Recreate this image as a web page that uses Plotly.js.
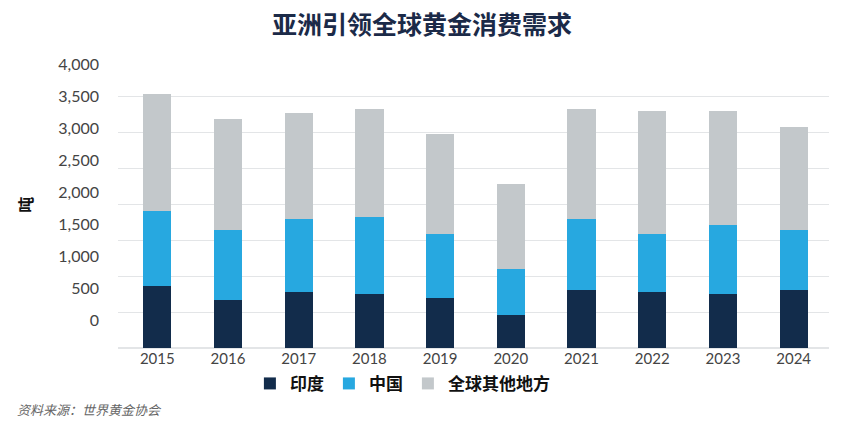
<!DOCTYPE html>
<html>
<head>
<meta charset="utf-8">
<script src="https://cdn.plot.ly/plotly-3.0.1.min.js"></script>
<style>
  html, body { margin: 0; padding: 0; background: #fff; }
  #chart { width: 844px; height: 436px; }
</style>
</head>
<body>
<div id="chart"></div>
<script>
// gold consumer demand, tonnes
const years = ['2015', '2016', '2017', '2018', '2019', '2020', '2021', '2022', '2023', '2024'];
const india = [866, 667, 782, 750, 690, 458, 806, 782, 750, 806];
const china = [1046, 981, 1014, 1079, 903, 644, 990, 811, 958, 842];
const restOfWorld = [1628, 1546, 1482, 1509, 1393, 1190, 1542, 1717, 1602, 1426];

const yTicks = [0, 500, 1000, 1500, 2000, 2500, 3000, 3500, 4000];
const yTickText = ['0', '500', '1,000', '1,500', '2,000', '2,500', '3,000', '3,500', '4,000'];

const cjk = '"Noto Sans CJK SC", "Noto Sans", sans-serif';
const num = 'Lato, "Open Sans", sans-serif';

function barTrace(name, values, color) {
    return {
        type: 'bar',
        name: name,
        x: years,
        y: values,
        marker: { color: color, line: { width: 0 } },
        hoverinfo: 'skip'
    };
}

const data = [
    barTrace('印度', india, '#122c4b'),
    barTrace('中国', china, '#27a8e0'),
    barTrace('全球其他地方', restOfWorld, '#c3c8cb'),
    // holder so the label axis gets drawn
    {
        type: 'scatter', mode: 'markers', x: [years[0]], y: [0], yaxis: 'y2',
        marker: { opacity: 0 }, showlegend: false, hoverinfo: 'skip'
    }
];

const layout = {
    width: 844,
    height: 436,
    margin: { l: 118, r: 15, t: 61, b: 88, pad: 0 },
    paper_bgcolor: '#ffffff',
    plot_bgcolor: '#ffffff',
    barmode: 'stack',
    bargap: 0.6,
    showlegend: true,
    title: {
        text: '<b>亚洲引领全球黄金消费需求</b>',
        font: { family: cjk, size: 25, color: '#1b2a48' },
        x: 0.5,
        xref: 'container',
        xanchor: 'center',
        y: 0.943,
        yref: 'container',
        yanchor: 'middle'
    },
    xaxis: {
        type: 'category',
        tickfont: { family: num, size: 15, color: '#444' },
        showgrid: false,
        showline: false,
        zeroline: false,
        ticks: '',
        fixedrange: true
    },
    yaxis: {
        range: [0, 4000],
        tickvals: yTicks,
        showticklabels: false,
        showgrid: true,
        gridcolor: '#e3e5e7',
        gridwidth: 1.2,
        zeroline: true,
        zerolinecolor: '#e3e5e7',
        zerolinewidth: 1.2,
        showline: false,
        ticks: '',
        fixedrange: true
    },
    // labels sit on their own scale, as in the source image
    yaxis2: {
        overlaying: 'y',
        side: 'left',
        anchor: 'x',
        range: [-437.5, 4047],
        tickvals: yTicks,
        ticktext: yTickText,
        tickfont: { family: num, size: 16, color: '#444' },
        ticklabelstandoff: 18,
        showgrid: false,
        zeroline: false,
        showline: false,
        ticks: '',
        fixedrange: true
    },
    legend: {
        orientation: 'h',
        x: 0.4,
        xanchor: 'center',
        y: -0.125,
        yanchor: 'middle',
        traceorder: 'normal',
        font: { family: cjk, size: 17, color: '#111', weight: 'bold' },
        itemwidth: 30,
        bgcolor: 'rgba(0,0,0,0)'
    },
    annotations: [
        {
            text: '<b>吨</b>',
            xref: 'paper', yref: 'paper',
            x: -0.132, y: 0.5,
            xanchor: 'center', yanchor: 'middle',
            textangle: -90,
            showarrow: false,
            font: { family: cjk, size: 16, color: '#111' }
        },
        {
            text: '<i>资料来源：世界黄金协会</i>',
            xref: 'paper', yref: 'paper',
            x: -0.145, y: -0.215,
            xanchor: 'left', yanchor: 'middle',
            showarrow: false,
            font: { family: cjk, size: 13, color: '#666' }
        }
    ]
};

Plotly.newPlot('chart', data, layout, { displayModeBar: false, staticPlot: true });
</script>
</body>
</html>
